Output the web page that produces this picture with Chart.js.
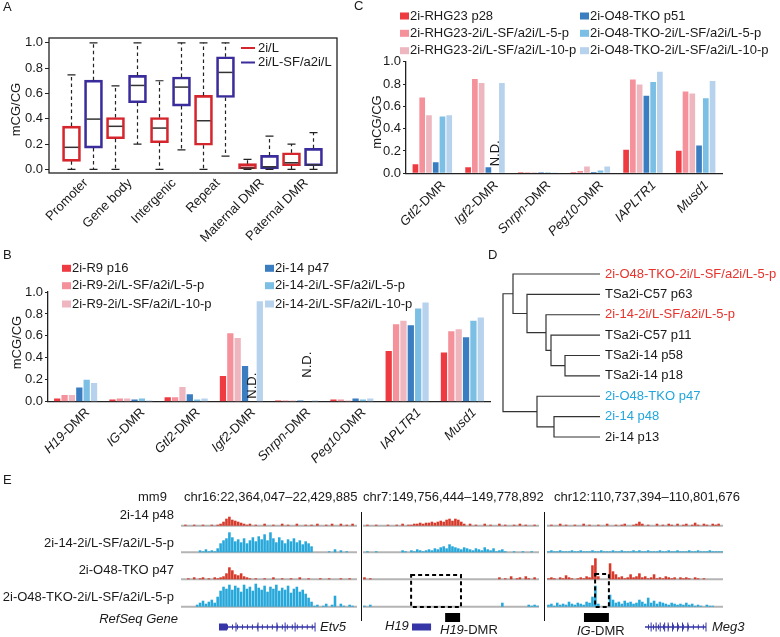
<!DOCTYPE html>
<html><head><meta charset="utf-8">
<script src="https://cdn.jsdelivr.net/npm/chart.js@4.4.1/dist/chart.umd.min.js"></script>
<style>
html,body{margin:0;padding:0;background:#fff;}
#wrap{position:relative;width:780px;height:637px;overflow:hidden;font-family:Arial,"Liberation Sans",sans-serif;color:#1a1a1a;}
canvas{position:absolute;}
.t{position:absolute;font-size:13px;line-height:16px;white-space:nowrap;}
.r{text-align:right;}
.i{font-style:italic;}
.vl{position:absolute;width:0;border-left:1.5px solid #111;}
</style></head>
<body><div id="wrap">
<canvas id="cA" width="345" height="250" style="left:0;top:0"></canvas>
<canvas id="cC" width="435" height="245" style="left:345px;top:0"></canvas>
<canvas id="cB" width="495" height="235" style="left:0;top:240px"></canvas>
<canvas id="cD" width="290" height="200" style="left:490px;top:250px"></canvas>
<canvas id="cE1" width="176" height="137" style="left:181px;top:500px"></canvas>
<canvas id="cE2" width="176" height="137" style="left:363px;top:500px"></canvas>
<canvas id="cE3" width="176" height="137" style="left:547px;top:500px"></canvas>

<div class="t" style="left:3px;top:-1px">A</div>
<div class="t" style="left:354px;top:-2px">C</div>
<div class="t" style="left:3px;top:247px">B</div>
<div class="t" style="left:488px;top:247px">D</div>
<div class="t" style="left:3px;top:472px">E</div>

<div class="t" style="left:138px;top:489px">mm9</div>
<div class="t" id="reg1" style="left:184px;top:489px"></div>
<div class="t" id="reg2" style="left:363px;top:489px"></div>
<div class="t" id="reg3" style="left:554px;top:489px"></div>
<div class="t r" id="trk0" style="left:0;width:174px;top:507px"></div>
<div class="t r" id="trk1" style="left:0;width:174px;top:535px"></div>
<div class="t r" id="trk2" style="left:0;width:174px;top:562px"></div>
<div class="t r" id="trk3" style="left:0;width:174px;top:589px"></div>
<div class="t r i" style="left:0;width:178px;top:611px">RefSeq Gene</div>
<div class="t i" style="left:320px;top:619px">Etv5</div>
<div class="t i" style="left:385px;top:618px">H19</div>
<div class="t" style="left:440px;top:622px"><span class="i">H19</span>-DMR</div>
<div class="t" style="left:577px;top:623px"><span class="i">IG</span>-DMR</div>
<div class="t i" style="left:712px;top:619px">Meg3</div>
<div class="vl" style="left:361px;top:512px;height:109px"></div>
<div class="vl" style="left:544px;top:512px;height:109px"></div>
</div>
<script>
// ---------------- DATA ----------------
// Panel A (box plots)
const aCats = ['Promoter','Gene body','Intergenic','Repeat','Maternal DMR','Paternal DMR'];
const aSeries = ['2i/L','2i/L-SF/a2i/L'];
const aRedMin = [0,0,0,0,0,0];
const aRedQ1  = [0.063,0.242,0.21,0.19,0.003,0.028];
const aRedMed = [0.174,0.34,0.326,0.384,0.01,0.052];
const aRedQ3  = [0.342,0.41,0.41,0.584,0.045,0.131];
const aRedMax = [0.747,0.66,0.70,1.0,0.079,0.2];
const aBlueMin = [0,0.2,0.153,0.105,0,0];
const aBlueQ1  = [0.168,0.526,0.5,0.568,0.003,0.028];
const aBlueMed = [0.397,0.663,0.65,0.766,0.02,0.035];
const aBlueQ3  = [0.705,0.742,0.73,0.89,0.11,0.166];
const aBlueMax = [1.0,1.0,1.0,1.0,0.263,0.29];
const yTicks = [0,0.2,0.4,0.6,0.8,1.0];

// Panel B
const bCats = ['H19-DMR','IG-DMR','Gtl2-DMR','Igf2-DMR','Snrpn-DMR','Peg10-DMR','IAPLTR1','Musd1'];
const bSeries = ['2i-R9 p16','2i-R9-2i/L-SF/a2i/L-5-p','2i-R9-2i/L-SF/a2i/L-10-p','2i-14 p47','2i-14-2i/L-SF/a2i/L-5-p','2i-14-2i/L-SF/a2i/L-10-p'];
const bR9p16  = [0.03,0.02,0.04,0.235,0.012,0.02,0.463,0.448];
const bR9x5p  = [0.06,0.03,0.04,0.625,0.012,0.02,0.707,0.643];
const bR9x10p = [0.06,0.03,0.134,0.58,0.012,0.012,0.738,0.66];
const b14p47  = [0.13,0.02,0.067,0.326,0.012,0.03,0.698,0.588];
const b14x5p  = [0.2,0.03,0.02,null,null,0.02,0.85,0.738];
const b14x10p = [0.17,0.012,0.03,0.915,0.01,0.03,0.905,0.768];

// Panel C
const cCats = ['Gtl2-DMR','Igf2-DMR','Snrpn-DMR','Peg10-DMR','IAPLTR1','Musd1'];
const cSeries = ['2i-RHG23 p28','2i-RHG23-2i/L-SF/a2i/L-5-p','2i-RHG23-2i/L-SF/a2i/L-10-p','2i-O48-TKO p51','2i-O48-TKO-2i/L-SF/a2i/L-5-p','2i-O48-TKO-2i/L-SF/a2i/L-10-p'];
const cRHGp28  = [0.08,0.054,0.01,0.01,0.21,0.203];
const cRHGx5p  = [0.68,0.845,0.01,0.02,0.84,0.734];
const cRHGx10p = [0.52,0.81,0.01,0.06,0.795,0.716];
const cTKOp51  = [0.10,0.054,0.01,0.012,0.695,0.248];
const cTKOx5p  = [0.51,null,0.01,0.025,0.818,0.672];
const cTKOx10p = [0.52,0.81,0.008,0.06,0.91,0.827];

// Panel D (dendrogram)
const dLeaves = ['2i-O48-TKO-2i/L-SF/a2i/L-5-p','TSa2i-C57 p63','2i-14-2i/L-SF/a2i/L-5-p','TSa2i-C57 p11','TSa2i-14 p58','TSa2i-14 p18','2i-O48-TKO p47','2i-14 p48','2i-14 p13'];
const dMergeA = [4,7,3,2,6,1,0,15];
const dMergeB = [5,8,9,11,10,12,14,13];
const dHeight = [0.35,0.46,0.49,0.54,0.63,0.73,0.87,0.97];

// Panel E (browser tracks, signal per bin)
const eRegions = ['chr16:22,364,047\u201322,429,885','chr7:149,756,444\u2013149,778,892','chr12:110,737,394\u2013110,801,676'];
const eTracks = ['2i-14 p48','2i-14-2i/L-SF/a2i/L-5-p','2i-O48-TKO p47','2i-O48-TKO-2i/L-SF/a2i/L-5-p'];
const r1p48   = [0,1,0,0,1,0,0,1,0,0, 1,0,1,2,4,7,9,6,5,4, 3,2,1,2,0,1,0,0,2,0, 0,1,0,0,2,0,1,0,0,2, 0,0,1,0,1,0,2,0,0,1, 0,2,0,0,2,0,1,0,2,0];
const r1p48x5 = [0,0,0,0,0,0,2,1,3,1, 2,1,4,9,12,14,20,15,11,13, 10,14,9,12,15,11,16,13,18,12, 20,14,10,15,12,9,13,11,14,10, 12,8,11,9,6,0,0,0,0,0, 1,0,3,0,2,0,1,0,0,0];
const r1tko   = [0,0,1,0,2,0,1,2,0,1, 0,2,1,2,3,6,12,9,5,4, 6,3,2,1,0,1,0,0,1,0, 0,2,0,0,1,0,0,1,0,0, 2,0,0,1,0,0,0,1,0,0, 1,0,0,0,1,0,0,1,0,0];
const r1tkox5 = [0,0,0,0,0,2,4,6,3,5, 7,4,10,16,20,18,22,17,21,19, 15,22,18,20,16,23,19,17,21,15, 20,18,22,16,19,17,21,14,18,20, 15,17,13,9,5,1,2,0,1,3, 0,2,11,0,3,1,0,2,1,0];
const r2p48   = [0,1,0,0,1,0,0,0,1,0, 0,1,0,2,0,1,1,2,2,3, 2,3,3,4,3,4,5,4,6,7, 5,7,6,4,2,0,2,0,1,0, 0,2,0,1,0,0,2,0,1,0, 0,1,0,2,0,1,0,0,1,0];
const r2p48x5 = [0,1,0,0,1,0,0,0,0,0, 0,0,0,2,1,0,2,1,3,2, 1,2,3,2,4,3,5,6,4,8, 6,5,4,3,5,4,3,2,4,3, 2,5,3,2,4,1,2,3,1,0, 0,1,0,0,1,0,0,1,0,0];
const r2tko   = [2,0,1,0,0,0,0,0,0,0, 0,0,0,0,0,0,0,0,0,0, 0,0,0,0,0,0,0,0,0,0, 0,0,0,0,0,0,0,0,0,0, 0,0,0,0,0,0,2,0,1,0, 3,0,1,2,0,3,1,0,2,0];
const r2tkox5 = [1,0,2,0,0,0,0,0,0,0, 0,0,0,0,0,0,0,0,0,0, 0,0,0,0,0,0,0,0,0,0, 0,0,0,0,0,0,0,0,0,0, 0,0,0,0,0,0,0,4,0,0, 0,0,0,0,0,0,2,1,2,1];
const r3p48   = [0,1,0,0,2,0,1,0,0,1, 0,0,2,0,1,0,0,1,0,0, 2,0,0,1,0,1,2,0,0,1, 2,4,2,0,1,0,0,2,0,1, 0,2,1,0,2,0,1,2,0,1, 3,1,0,2,1,0,2,1,2,0];
const r3p48x5 = [1,2,1,1,2,1,1,1,2,1, 1,2,1,1,1,2,1,1,2,1, 1,1,2,1,1,2,1,1,1,2, 1,2,1,1,2,1,1,1,2,1, 1,2,1,1,2,1,1,1,2,1, 1,2,1,1,1,2,1,1,1,1];
const r3tko   = [1,2,1,0,2,1,4,2,1,0, 1,2,1,3,2,14,21,3,0,0, 0,16,8,5,2,3,1,2,5,2, 3,6,2,3,1,2,5,1,2,1, 3,2,1,2,0,2,1,2,1,0, 2,1,0,1,0,0,0,0,0,0];
const r3tkox5 = [2,3,1,4,2,3,2,5,3,2, 4,3,2,5,4,10,21,3,0,0, 0,12,7,4,5,3,6,4,5,3, 4,7,5,3,9,4,6,3,5,4, 3,2,4,3,2,3,2,4,2,3, 1,2,1,0,2,1,1,0,0,0];
// annotations (bin units along each region)
const etv5Exons = [[12.95,15.7]]; const etv5Span = [12.95,45.7]; const etv5Marks = [18.75,26.25,32.7,35.5,38.9,45.7];
const h19Exons = [[16.7,23.2]]; const h19Span = [16.7,23.2];
const h19Dmr = [28,33.1]; const h19Box = [16.4,33.4];
const igDmr = [12.6,21.1]; const igBox = [16.4,21.1];
const meg3Span = [33.4,54.2]; const meg3Marks = [35.5,37.2,38.6,40.1,41.3,42.8,44.5,46.2,48.0,54.2];

// ---------------- STYLE / HELPERS ----------------
const FONT = 'Arial, "Liberation Sans", sans-serif';
const TXT = '#1a1a1a';
Chart.defaults.font.family = FONT;
Chart.defaults.font.size = 13;
Chart.defaults.color = TXT;
Chart.defaults.animation = false;
Chart.defaults.plugins.legend.display = false;
Chart.defaults.plugins.tooltip.enabled = false;
const fnt = (sz, it) => (it ? 'italic ' : '') + sz + 'px ' + FONT;
const RED_A = '#d6262d', BLUE_A = '#3a2c9c';
const barCols = ['#ee3b41','#f4919b','#eeb6bf','#3a7dc1','#7cbfe4','#b7d2ec'];

document.getElementById('reg1').textContent = eRegions[0];
document.getElementById('reg2').textContent = eRegions[1];
document.getElementById('reg3').textContent = eRegions[2];
eTracks.forEach((t,i)=>document.getElementById('trk'+i).textContent = t);

function rotLabels(labels, valFn, dx, dy, italic){
  return {id:'rotLabels', afterDraw(chart){
    const ctx = chart.ctx, xs = chart.scales.x, bot = chart.chartArea.bottom;
    ctx.save(); ctx.fillStyle = TXT; ctx.textBaseline = 'middle'; ctx.textAlign = 'right';
    labels.forEach((lab,i)=>{
      const px = xs.getPixelForValue(valFn(i));
      let parts = [{s:lab, it:false}];
      if (italic) {
        const k = lab.indexOf('-DMR');
        parts = k >= 0 ? [{s:lab.slice(0,k), it:true},{s:lab.slice(k), it:false}] : [{s:lab, it:true}];
      }
      ctx.save(); ctx.translate(px+dx, bot+dy); ctx.rotate(-Math.PI/4);
      let x = 0;
      for (let j=parts.length-1;j>=0;j--){ ctx.font = fnt(13, parts[j].it); ctx.fillText(parts[j].s, x, 0); x -= ctx.measureText(parts[j].s).width; }
      ctx.restore();
    });
    ctx.restore();
  }};
}
function yTitle(text, x, yc){
  return {id:'yTitle', afterDraw(chart){
    const ctx = chart.ctx; ctx.save(); ctx.font = fnt(13); ctx.fillStyle = TXT;
    ctx.translate(x, yc); ctx.rotate(-Math.PI/2); ctx.textAlign='center'; ctx.textBaseline='middle';
    ctx.fillText(text, 0, 0); ctx.restore();
  }};
}
function boxLegend(colX, rowY){
  return {id:'boxLegend', afterDraw(chart){
    const ctx = chart.ctx; ctx.save(); ctx.font = fnt(13); ctx.textBaseline='middle'; ctx.textAlign='left';
    chart.data.datasets.forEach((ds,i)=>{
      const x = colX[Math.floor(i/3)], y = rowY[i%3];
      ctx.fillStyle = ds.backgroundColor; ctx.fillRect(x, y-3.5, 9, 7);
      ctx.fillStyle = TXT; ctx.fillText(ds.label, x+10, y);
    });
    ctx.restore();
  }};
}
function ndLabels(gaps){
  return {id:'ndLabels', afterDatasetsDraw(chart){
    const ctx = chart.ctx, bot = chart.chartArea.bottom;
    ctx.save(); ctx.font = fnt(13); ctx.fillStyle = TXT; ctx.textAlign='left'; ctx.textBaseline='middle';
    let n = 0;
    chart.data.datasets.forEach((ds,di)=>{
      ds.data.forEach((v,i)=>{
        if (v !== null) return;
        const a = chart.getDatasetMeta(di-1).data[i].x, b = chart.getDatasetMeta(di+1).data[i].x;
        const g = gaps[Math.min(n, gaps.length-1)]; n++;
        ctx.save(); ctx.translate((a+b)/2, bot-g); ctx.rotate(-Math.PI/2); ctx.fillText('N.D.', 0, 0); ctx.restore();
      });
    });
    ctx.restore();
  }};
}

// ---------------- PANEL A ----------------
const boxPlugin = {id:'boxWhisk', afterDatasetsDraw(chart){
  const ctx = chart.ctx, ys = chart.scales.y;
  chart.data.datasets.forEach((ds,di)=>{
    chart.getDatasetMeta(di).data.forEach((bar,i)=>{
      const x = bar.x, w = bar.width;
      const yq1 = ys.getPixelForValue(ds.data[i].y[0]), yq3 = ys.getPixelForValue(ds.data[i].y[1]);
      const ymin = ys.getPixelForValue(ds.wMin[i]), ymax = ys.getPixelForValue(ds.wMax[i]), ymed = ys.getPixelForValue(ds.wMed[i]);
      ctx.save(); ctx.strokeStyle = '#222'; ctx.lineWidth = 1.2;
      ctx.setLineDash([3.5,3]);
      ctx.beginPath(); ctx.moveTo(x,yq3); ctx.lineTo(x,ymax); ctx.moveTo(x,yq1); ctx.lineTo(x,ymin); ctx.stroke();
      ctx.setLineDash([]);
      ctx.beginPath(); ctx.moveTo(x-4,ymax); ctx.lineTo(x+4,ymax); ctx.moveTo(x-4,ymin); ctx.lineTo(x+4,ymin); ctx.stroke();
      ctx.strokeStyle = '#333'; ctx.lineWidth = 1.5;
      ctx.beginPath(); ctx.moveTo(x-w/2+2,ymed); ctx.lineTo(x+w/2-2,ymed); ctx.stroke();
      ctx.restore();
    });
  });
}};
const framePlugin = {id:'frame', afterDraw(chart){
  const ctx = chart.ctx, ca = chart.chartArea;
  ctx.save(); ctx.strokeStyle = '#222'; ctx.lineWidth = 1.3; ctx.strokeRect(ca.left, ca.top, ca.right-ca.left, ca.bottom-ca.top); ctx.restore();
}};
const lineLegend = {id:'lineLegend', afterDraw(chart){
  const ctx = chart.ctx, ca = chart.chartArea;
  ctx.save(); ctx.font = fnt(13); ctx.textBaseline='middle'; ctx.textAlign='left';
  chart.data.datasets.forEach((ds,i)=>{
    const x = ca.right-96, y = ca.top+10+i*14.5;
    ctx.strokeStyle = ds.borderColor; ctx.lineWidth = 2;
    ctx.beginPath(); ctx.moveTo(x,y); ctx.lineTo(x+14,y); ctx.stroke();
    ctx.fillStyle = TXT; ctx.fillText(ds.label, x+17, y);
  });
  ctx.restore();
}};
new Chart(document.getElementById('cA'), {
  type:'bar',
  data:{datasets:[
    {label:aSeries[0], data:aCats.map((_,i)=>({x:2*i+1, y:[aRedQ1[i], aRedQ3[i]]})), wMin:aRedMin, wMed:aRedMed, wMax:aRedMax,
     borderColor:RED_A, backgroundColor:'rgba(255,255,255,0)', borderWidth:2, borderSkipped:false, grouped:false, barThickness:18},
    {label:aSeries[1], data:aCats.map((_,i)=>({x:2*i+2, y:[aBlueQ1[i], aBlueQ3[i]]})), wMin:aBlueMin, wMed:aBlueMed, wMax:aBlueMax,
     borderColor:BLUE_A, backgroundColor:'rgba(255,255,255,0)', borderWidth:2, borderSkipped:false, grouped:false, barThickness:18}
  ]},
  options:{responsive:false, animation:false,
    layout:{autoPadding:false, padding:{top:38,right:8,left:0,bottom:0}},
    scales:{
      x:{type:'linear', offset:false, min:-0.0227, max:13.068, ticks:{display:false}, grid:{display:false, offset:false}, border:{display:false}, afterFit(s){s.height=77;}},
      y:{min:-0.029, max:1.038, afterBuildTicks(s){s.ticks=yTicks.map(v=>({value:v}));},
         ticks:{callback:v=>v.toFixed(1), padding:2, color:TXT},
         grid:{drawOnChartArea:false, tickLength:4, color:'#222'}, border:{display:false}, afterFit(s){s.width=49;}}
    }},
  plugins:[boxPlugin, framePlugin, lineLegend, rotLabels(aCats, i=>2*i+1.5, 3.5, 8, false), yTitle('mCG/CG', 16, 109.5)]
});

// ---------------- PANELS B & C ----------------
function groupedBars(id, cats, series, values, o){
  return new Chart(document.getElementById(id), {
    type:'bar',
    data:{labels:cats, datasets:series.map((s,k)=>({label:s, data:values[k], backgroundColor:barCols[k], borderWidth:0,
      categoryPercentage:o.cat, barPercentage:o.bar}))},
    options:{responsive:false, animation:false,
      layout:{autoPadding:false, padding:{top:o.top, right:o.right, left:0, bottom:0}},
      scales:{
        x:{ticks:{display:false}, grid:{drawOnChartArea:false, drawTicks:false}, border:{display:true, color:'#222', width:1.3}, afterFit(s){s.height=o.xh;}},
        y:{min:0, max:1, afterBuildTicks(s){s.ticks=yTicks.map(v=>({value:v}));},
           ticks:{callback:v=>v.toFixed(1), padding:2, color:TXT},
           grid:{drawOnChartArea:false, tickLength:3, color:'#222'}, border:{display:true, color:'#222', width:1.3}, afterFit(s){s.width=o.yw;}}
      }},
    plugins:[boxLegend(o.colX, o.rowY), ndLabels(o.gaps), rotLabels(cats, i=>i, o.dx, o.dy, true), yTitle('mCG/CG', o.tx, o.ty)]
  });
}
groupedBars('cB', bCats, bSeries, [bR9p16,bR9x5p,bR9x10p,b14p47,b14x5p,b14x10p],
  {cat:0.8, bar:0.85, top:52, right:5, xh:73.3, yw:48, colX:[62,265], rowY:[28.3,45.7,64], gaps:[3,24], dx:12, dy:9, tx:17, ty:102.5});
groupedBars('cC', cCats, cSeries, [cRHGp28,cRHGx5p,cRHGx10p,cTKOp51,cTKOx5p,cTKOx10p],
  {cat:0.77, bar:0.84, top:61.7, right:58, xh:71.7, yw:61, colX:[55,235], rowY:[16,33.3,50.7], gaps:[7], dx:11, dy:10, tx:32.5, ty:122});

// ---------------- PANEL D ----------------
const dColors = ['#e8322c',TXT,'#e8322c',TXT,TXT,TXT,'#22a6dc','#22a6dc',TXT];
const nodeX = dLeaves.map(()=>0), nodeY = dLeaves.map((_,i)=>i);
const dSegs = dMergeA.map((a,k)=>{
  const b = dMergeB[k], h = dHeight[k];
  const seg = [{x:nodeX[a],y:nodeY[a]},{x:h,y:nodeY[a]},{x:h,y:nodeY[b]},{x:nodeX[b],y:nodeY[b]}];
  nodeX.push(h); nodeY.push((nodeY[a]+nodeY[b])/2);
  return seg;
});
new Chart(document.getElementById('cD'), {
  type:'scatter',
  data:{datasets:dSegs.map(s=>({data:s, showLine:true, borderColor:'#333', borderWidth:1.2, pointRadius:0, tension:0, clip:false}))},
  options:{responsive:false, animation:false,
    layout:{autoPadding:false, padding:{left:13, top:24, bottom:13, right:0}},
    scales:{
      x:{type:'linear', reverse:true, min:0, max:0.97, display:false},
      y:{type:'linear', position:'right', reverse:true, min:0, max:8,
         afterBuildTicks(s){s.ticks=dLeaves.map((_,i)=>({value:i}));},
         ticks:{callback:(v,i)=>dLeaves[i], color:c=>dColors[c.index], padding:5, autoSkip:false},
         grid:{display:false, drawTicks:false}, border:{display:false}, afterFit(s){s.width=180;}}
    }}
});

// ---------------- PANEL E ----------------
const eBases = [111.3, 84.7, 57.7, 30.3];
const eColors = ['#d63a2a','#27a8da','#d63a2a','#27a8da'];
const GENE = '#3535a8';
function eAnn(ann){
  return {id:'eAnn',
    beforeDatasetsDraw(chart){
      const {ctx, chartArea:ca} = chart, ys = chart.scales.y;
      ctx.save(); ctx.strokeStyle='#b4b4b4'; ctx.lineWidth=2;
      eBases.forEach(b=>{const py = ys.getPixelForValue(b); ctx.beginPath(); ctx.moveTo(ca.left,py); ctx.lineTo(ca.right,py); ctx.stroke();});
      ctx.restore();
    },
    afterDatasetsDraw(chart){
      const ctx = chart.ctx, xs = chart.scales.x, ys = chart.scales.y;
      const X = u=>xs.getPixelForValue(u), Y = v=>ys.getPixelForValue(v);
      ctx.save();
      (ann.genes||[]).forEach(g=>{
        ctx.strokeStyle = GENE; ctx.fillStyle = GENE; ctx.lineWidth = 1.5;
        ctx.beginPath(); ctx.moveTo(X(g.span[0]),Y(10)); ctx.lineTo(X(g.span[1]),Y(10)); ctx.stroke();
        ctx.lineWidth = 1;
        for (let u=g.span[0]+1.2; u<g.span[1]; u+=1.7){ ctx.beginPath(); ctx.moveTo(X(u),Y(12.5)); ctx.lineTo(X(u),Y(7.5)); ctx.stroke(); }
        (g.marks||[]).forEach(u=>{ ctx.beginPath(); ctx.moveTo(X(u),Y(14.5)); ctx.lineTo(X(u),Y(5.5)); ctx.stroke(); });
        (g.exons||[]).forEach(e=>{ ctx.fillRect(X(e[0]),Y(13.5),X(e[1])-X(e[0]),7); });
      });
      ctx.fillStyle = '#000';
      (ann.dmr||[]).forEach(d=>{ ctx.fillRect(X(d[0]),Y(24),X(d[1])-X(d[0]),9); });
      ctx.strokeStyle = '#000'; ctx.lineWidth = 2; ctx.setLineDash([4,3]);
      (ann.boxes||[]).forEach(b=>{ ctx.strokeRect(X(b[0]),Y(b[3]),X(b[1])-X(b[0]),Y(b[2])-Y(b[3])); });
      ctx.restore();
    }};
}
function trackChart(id, tracks, ann){
  return new Chart(document.getElementById(id), {
    type:'bar',
    data:{datasets:tracks.map((arr,k)=>({data:arr.map((h,i)=>({x:i+0.5, y:[eBases[k], eBases[k]+h]})),
      backgroundColor:eColors[k], borderWidth:0, grouped:false, categoryPercentage:1, barPercentage:0.88}))},
    options:{responsive:false, animation:false, layout:{autoPadding:false, padding:0},
      scales:{x:{type:'linear', offset:false, grid:{offset:false}, min:0, max:60, display:false}, y:{min:0, max:137, display:false}}},
    plugins:[eAnn(ann)]
  });
}
trackChart('cE1', [r1p48,r1p48x5,r1tko,r1tkox5], {genes:[{span:etv5Span, exons:etv5Exons, marks:etv5Marks}]});
trackChart('cE2', [r2p48,r2p48x5,r2tko,r2tkox5], {genes:[{span:h19Span, exons:h19Exons, marks:[]}], dmr:[h19Dmr], boxes:[[h19Box[0],h19Box[1],30,62]]});
trackChart('cE3', [r3p48,r3p48x5,r3tko,r3tkox5], {genes:[{span:meg3Span, exons:[], marks:meg3Marks}], dmr:[igDmr], boxes:[[igBox[0],igBox[1],30,63]]});
</script>
</body></html>
